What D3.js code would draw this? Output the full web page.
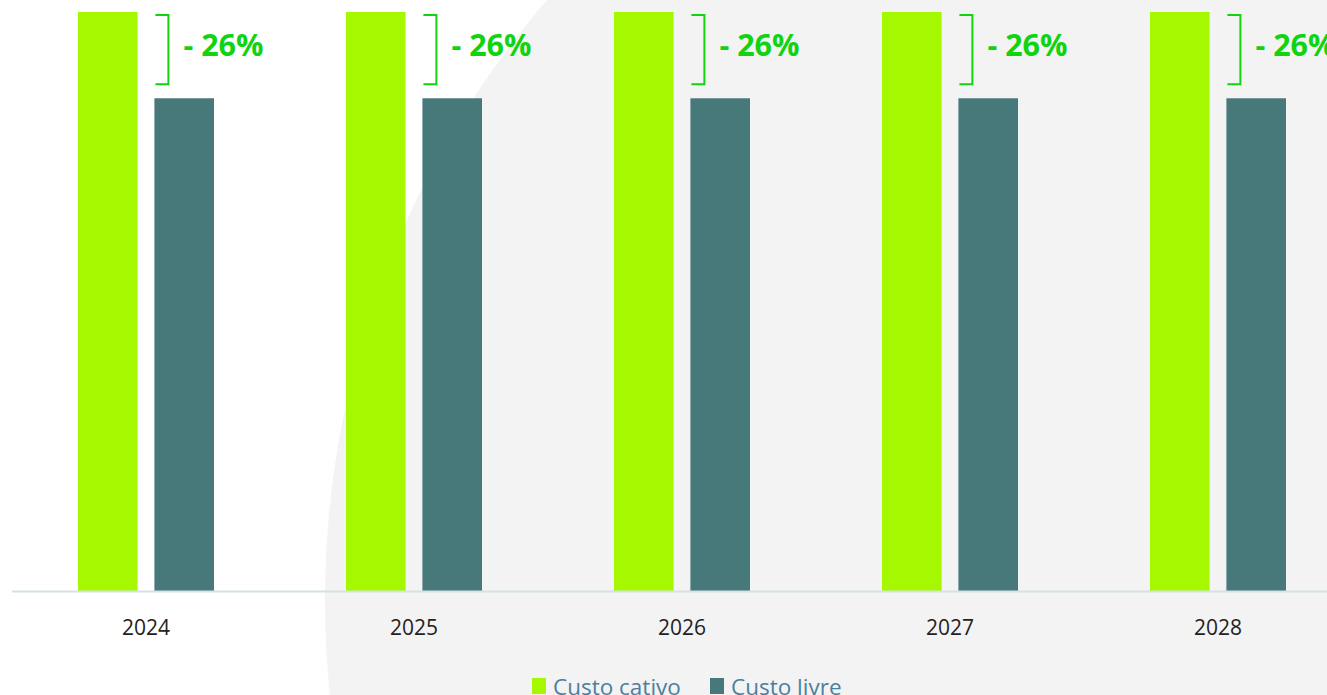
<!DOCTYPE html>
<html>
<head>
<meta charset="utf-8">
<script src="https://cdn.jsdelivr.net/npm/d3@7"></script>
<style>
  html, body { margin: 0; padding: 0; background: #fff; overflow: hidden; }
  svg { display: block; }
</style>
</head>
<body>
<div id="chart"></div>
<script>
'use strict';

var years = ['2024', '2025', '2026', '2027', '2028'];
var custoCativo = [100, 100, 100, 100, 100];
var custoLivre = [85.1, 85.1, 85.1, 85.1, 85.1];
var reducao = ['26%', '26%', '26%', '26%', '26%'];
var seriesNames = ['Custo cativo', 'Custo livre'];
var seriesColors = ['#a5f800', '#47797b'];

var W = 1327, H = 695;
var baseY = 591;

var svg = d3.select('#chart').append('svg')
	.attr('width', W)
	.attr('height', H);

// light background disc
svg.append('circle')
	.attr('cx', 1247)
	.attr('cy', 600)
	.attr('r', 922)
	.attr('fill', '#f3f3f3');

var x = d3.scaleBand()
	.domain(years)
	.range([12, 1352])
	.paddingInner(0)
	.paddingOuter(0);

var inner = d3.scaleBand()
	.domain(seriesNames)
	.range([0, 136])
	.paddingInner(0.22);

var y = d3.scaleLinear()
	.domain([0, 100])
	.range([baseY, 12]);

var data = years.map(function(yr, i){
	return { year: yr, values: [custoCativo[i], custoLivre[i]], label: reducao[i] };
});

var groups = svg.append('g').selectAll('g.group')
	.data(data)
	.enter()
	.append('g')
	.attr('class', 'group')
	.attr('transform', function(d) { return 'translate(' + (x(d.year) + (x.bandwidth() - 136) / 2) + ',0)'; });

groups.selectAll('rect')
	.data(function(d) { return d.values.map(function(v, j){ return { key: seriesNames[j], value: v, color: seriesColors[j] }; }); })
	.enter()
	.append('rect')
	.attr('x', function(d) { return inner(d.key); })
	.attr('width', inner.bandwidth())
	.attr('y', function(d) { return y(d.value); })
	.attr('height', function(d) { return baseY - y(d.value); })
	.attr('fill', function(d) { return d.color; });

// bracket + percentage
var bx = inner(seriesNames[1]);
groups.append('path')
	.attr('fill', 'none')
	.attr('stroke', '#10d410')
	.attr('stroke-width', 2)
	.attr('d', function(d) {
		var t = y(d.values[0]) + 3;
		var b = y(d.values[1]) - 14;
		return 'M' + (bx + 1) + ',' + t + 'H' + (bx + 14) + 'V' + b + 'H' + (bx + 1);
	});

groups.append('text')
	.attr('x', bx + 29)
	.attr('y', 56)
	.attr('fill', '#0fd40f')
	.style('font-family', '"Open Sans", sans-serif')
	.style('font-weight', 'bold')
	.style('font-size', '30.5px')
	.text(function(d) { return '- ' + d.label; });

// axis
var xAxis = d3.axisBottom(x).tickSize(0).tickPadding(29);
var ax = svg.append('g')
	.attr('transform', 'translate(0,' + baseY + ')')
	.call(xAxis);
ax.select('.domain')
	.attr('stroke', '#d3e2ea')
	.attr('stroke-width', 2)
	.attr('d', 'M12,0.5H1340');
ax.selectAll('text')
	.attr('fill', '#222')
	.style('font-family', '"Open Sans", sans-serif')
	.style('font-size', '21px');

// legend
var legend = svg.append('g').attr('transform', 'translate(532,678)');
var lx = [0, 178];
seriesNames.forEach(function(name, i){
	var g = legend.append('g').attr('transform', 'translate(' + lx[i] + ',0)');
	g.append('rect')
		.attr('width', 14)
		.attr('height', 16)
		.attr('fill', seriesColors[i]);
	g.append('text')
		.attr('x', 21)
		.attr('y', 17)
		.attr('fill', '#4b7fa0')
		.style('font-family', '"Open Sans", sans-serif')
		.style('font-size', '22.5px')
		.text(name);
});
</script>
</body>
</html>
